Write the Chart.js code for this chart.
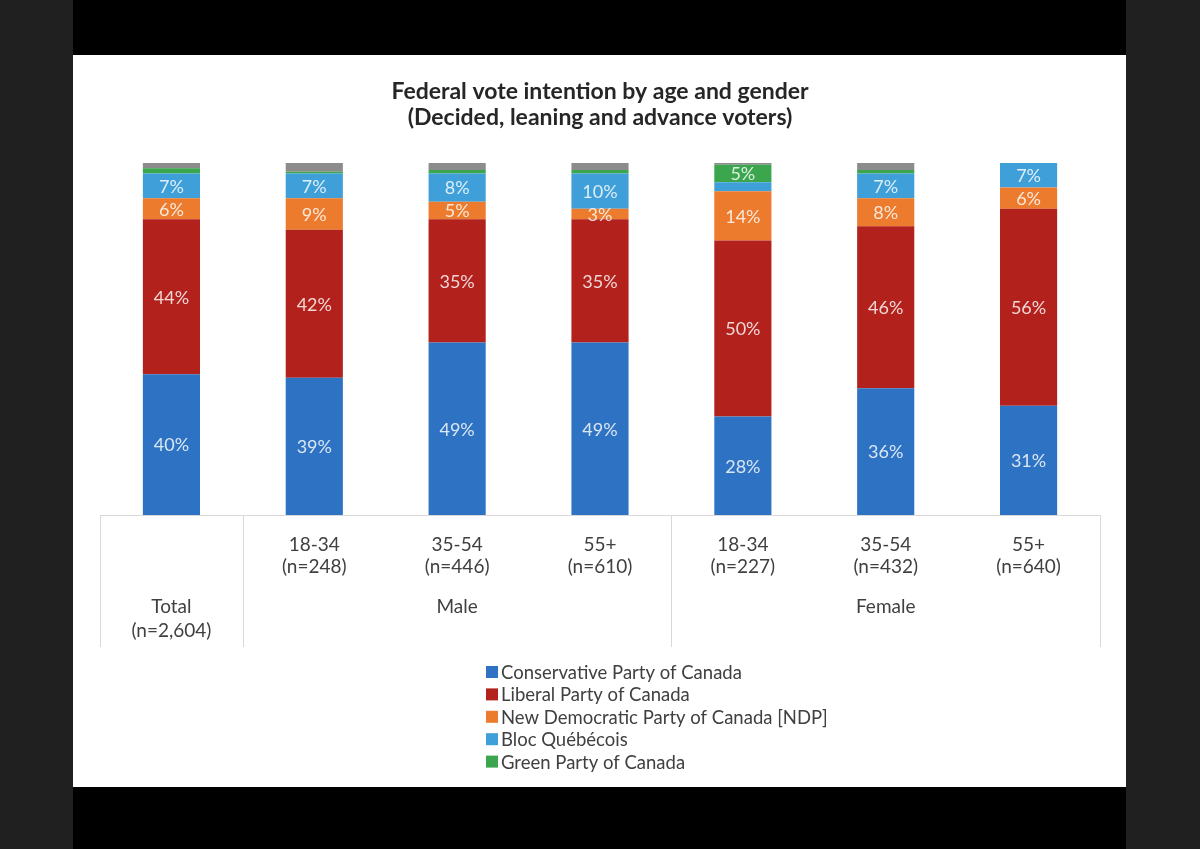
<!DOCTYPE html>
<html>
<head>
<meta charset="utf-8">
<script src="https://cdn.jsdelivr.net/npm/chart.js@4/dist/chart.umd.min.js"></script>
<style>
  html, body { margin: 0; padding: 0; width: 1200px; height: 849px; overflow: hidden; background: #202020; }
  #frame { position: absolute; left: 73px; top: 0; width: 1053px; height: 849px; background: #000; }
  #wrap { position: absolute; left: 73px; top: 55px; width: 1053px; height: 732px; background: #fff; }
  canvas { display: block; }
</style>
</head>
<body>
<div id="frame"></div>
<div id="wrap"><canvas id="c" width="1053" height="732"></canvas></div>
<script>
const titleLines = ['Federal vote intention by age and gender', '(Decided, leaning and advance voters)'];
const categories = ['Total', 'Male 18-34', 'Male 35-54', 'Male 55+', 'Female 18-34', 'Female 35-54', 'Female 55+'];
const ageTicks = ['', ['18-34', '(n=248)'], ['35-54', '(n=446)'], ['55+', '(n=610)'], ['18-34', '(n=227)'], ['35-54', '(n=432)'], ['55+', '(n=640)']];
const groupTicks = [['Total', '(n=2,604)'], '', 'Male', '', '', 'Female', ''];

const conservative = [40, 39, 49, 49, 28, 36, 31];
const liberal      = [44, 42, 35, 35, 50, 46, 56];
const ndp          = [6, 9, 5, 3, 14, 8, 6];
const bloc         = [7, 7, 8, 10, 2.5, 7, 7];
const green        = [1.5, 0.5, 1, 1, 5, 1, 0.3];
const other        = [1.5, 2.5, 2, 2, 0.5, 2, 0];

const seriesNames = ['Conservative Party of Canada', 'Liberal Party of Canada', 'New Democratic Party of Canada [NDP]', 'Bloc Québécois', 'Green Party of Canada', 'Other'];
const seriesColors = ['#2e73c3', '#b2211b', '#ec7b2d', '#3f9fd9', '#3ba64d', '#8c8c8c'];
const seriesData = [conservative, liberal, ndp, bloc, green, other];
const inLegend = [true, true, true, true, true, false];

const datasets = seriesData.map((d, i) => ({
  label: seriesNames[i],
  data: d,
  backgroundColor: seriesColors[i],
  borderWidth: 0,
  categoryPercentage: 1,
  barPercentage: 0.4,
  showInLegend: inLegend[i]
}));

const valueLabels = {
  id: 'valueLabels',
  afterDatasetsDraw(chart) {
    const ctx = chart.ctx;
    ctx.save();
    ctx.font = '18px Lato';
    ctx.textAlign = 'center';
    ctx.textBaseline = 'middle';
    ctx.fillStyle = 'rgba(255,255,255,0.82)';
    chart.data.datasets.forEach((ds, di) => {
      if (!ds.showInLegend) return;
      const meta = chart.getDatasetMeta(di);
      meta.data.forEach((bar, i) => {
        const v = ds.data[i];
        if (v < 3) return;
        const p = bar.getProps(['x', 'y', 'base'], true);
        ctx.fillText(Math.round(v) + '%', p.x, (p.y + p.base) / 2 + 1);
      });
    });
    ctx.restore();
  }
};

const separators = {
  id: 'separators',
  afterDraw(chart) {
    const ctx = chart.ctx;
    const xs = chart.scales.x;
    const a = chart.chartArea;
    const bounds = [a.left, (xs.getPixelForValue(0) + xs.getPixelForValue(1)) / 2,
                    (xs.getPixelForValue(3) + xs.getPixelForValue(4)) / 2, a.right];
    ctx.save();
    ctx.strokeStyle = '#d9d9d9';
    ctx.lineWidth = 1;
    bounds.forEach(bx => {
      const x = Math.round(bx) + 0.5;
      ctx.beginPath();
      ctx.moveTo(x, a.bottom);
      ctx.lineTo(x, a.bottom + 132);
      ctx.stroke();
    });
    ctx.restore();
  }
};

const boxLegend = {
  id: 'boxLegend',
  afterDraw(chart) {
    const ctx = chart.ctx;
    const a = chart.chartArea;
    const x0 = 413, y0 = a.bottom + 157, step = 22.4;
    ctx.save();
    ctx.font = '18.5px Lato';
    ctx.textAlign = 'left';
    ctx.textBaseline = 'middle';
    let row = 0;
    chart.data.datasets.forEach(ds => {
      if (!ds.showInLegend) return;
      const cy = y0 + row * step;
      ctx.fillStyle = ds.backgroundColor;
      ctx.fillRect(x0, cy - 6, 12, 12);
      ctx.fillStyle = '#404040';
      ctx.fillText(ds.label, x0 + 15, cy + 1);
      row++;
    });
    ctx.restore();
  }
};

function build() {
  Chart.defaults.font.family = 'Lato';
  new Chart(document.getElementById('c'), {
    type: 'bar',
    data: { labels: categories, datasets },
    options: {
      responsive: false,
      animation: false,
      devicePixelRatio: 1,
      layout: { padding: { left: 27, right: 26, top: 0, bottom: 140 } },
      plugins: {
        legend: { display: false },
        tooltip: { enabled: false },
        title: {
          display: true,
          text: titleLines,
          color: '#262626',
          font: { size: 23, weight: 'bold', lineHeight: 1.13 },
          padding: { top: 24, bottom: 32 }
        }
      },
      scales: {
        x: {
          stacked: true,
          grid: { display: false, drawTicks: false },
          border: { display: true, color: '#d9d9d9', width: 1 },
          ticks: {
            color: '#404040',
            font: { size: 19, lineHeight: 1.16 },
            padding: 19,
            maxRotation: 0,
            autoSkip: false,
            callback: (v, i) => ageTicks[i]
          },
          afterFit: s => { s.height = 62; }
        },
        x2: {
          type: 'category',
          position: 'bottom',
          labels: groupTicks,
          offset: true,
          grid: { display: false, drawTicks: false },
          border: { display: false },
          ticks: {
            color: '#404040',
            font: { size: 19, lineHeight: 1.26 },
            padding: 18,
            maxRotation: 0,
            autoSkip: false
          },
          afterFit: s => { s.height = 70; }
        },
        y: {
          stacked: true,
          display: false,
          min: 0,
          max: 100
        }
      }
    },
    plugins: [valueLabels, separators, boxLegend]
  });
}

if (document.fonts && document.fonts.load) {
  Promise.all([document.fonts.load('18px Lato'), document.fonts.load('bold 23px Lato')]).then(build, build);
} else {
  build();
}
</script>
</body>
</html>
